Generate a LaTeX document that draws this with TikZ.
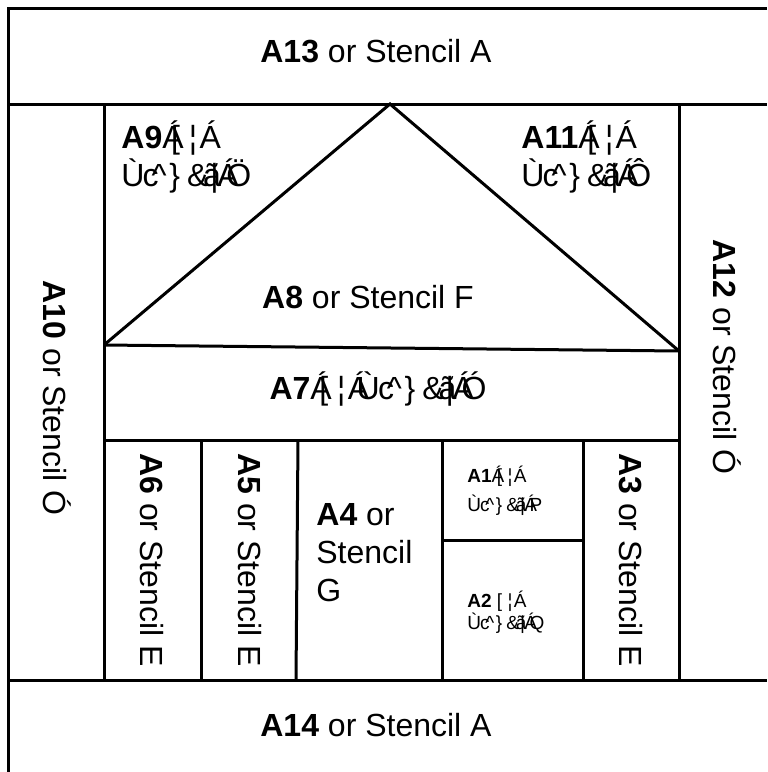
\documentclass[tikz,border=0pt]{standalone}
\usepackage{fontspec}
\setmainfont{Liberation Sans}
% glyph set at a fixed advance
\newcommand{\gw}[2]{\makebox[#1em][l]{#2}}
\newcommand{\gsp}{\gw{.278}{Á}}
\newcommand{\gor}{\gw{.556}{[}\gw{.333}{¦}\gw{.278}{Á}}
\newcommand{\gst}{\gw{.667}{Ù}\gw{.278}{c}\gw{.556}{\textasciicircum}\gw{.556}{\}}\gw{.5}{\&}\gw{.222}{ã}\gw{.222}{\textbar}\gw{.278}{Á}}

\begin{document}
\begin{tikzpicture}[x=0.5pt, y=-0.5pt,
  wall/.style={line width=1.5pt},
  big/.style={font=\fontsize{16}{19}\selectfont, inner sep=0pt},
  small/.style={font=\fontsize{9.5}{14.5}\selectfont, inner sep=0pt},
  smaller/.style={font=\fontsize{9.5}{11}\selectfont, inner sep=0pt}]
\useasboundingbox (0,0) rectangle (767,772);
\coordinate (apex) at (390,104);
\coordinate (eaveL) at (104,345);
\coordinate (eaveR) at (679,351);
% frame
\draw[wall] (8,772) -- (8,8) -- (767,8);
\draw[wall] (8,104) -- (767,104);
\draw[wall] (8,680) -- (767,680);
\draw[wall] (104,104) -- (104,680);
\draw[wall] (679,104) -- (679,680);
% roof
\draw[wall] (eaveL) -- (apex) -- (eaveR);
\draw[wall] (eaveL) -- (eaveR);
% lower panels
\draw[wall] (104,440) -- (679,440);
\draw[wall] (201,440) -- (201,680);
\draw[wall] (298,440) -- (296,680);
\draw[wall] (442,440) -- (442,680);
\draw[wall] (583,440) -- (583,680);
\draw[wall] (442,540) -- (583,540);

\node[big] (a13) at (376,51) {\textbf{A13} or Stencil A};
\node[big] (a14) at (376,725) {\textbf{A14} or Stencil A};
\node[big, align=left, anchor=west] (a9) at (121,157) {\textbf{A9}\gsp\gor\\\gst Ö};
\node[big, align=left, anchor=west] (a11) at (521,157) {\textbf{A11}\gsp\gor\\\gst Ô};
\node[big] (a8) at (368,297) {\textbf{A8} or Stencil F};
\node[big] (a7) at (378,389) {\textbf{A7}\gsp\gor\gst Ó};
\node[big, rotate=-90] (a10) at (57,398) {\textbf{A10} or Stencil Ó};
\node[big, rotate=-90] (a12) at (727,357) {\textbf{A12} or Stencil Ó};
\node[big, rotate=-90] (a6) at (152,560) {\textbf{A6} or Stencil E};
\node[big, rotate=-90] (a5) at (250,560) {\textbf{A5} or Stencil E};
\node[big, rotate=-90] (a3) at (631,560) {\textbf{A3} or Stencil E};
\node[big, align=left, anchor=west] (a4) at (316,553) {\textbf{A4} or\\Stencil\\G};
\node[small, align=left, anchor=west] (a1) at (467,491) {\textbf{A1}\gsp\gor\\\gst P};
\node[smaller, align=left, anchor=west] (a2) at (467,612) {\textbf{A2} \gor\\\gst Q};
\end{tikzpicture}
\end{document}
